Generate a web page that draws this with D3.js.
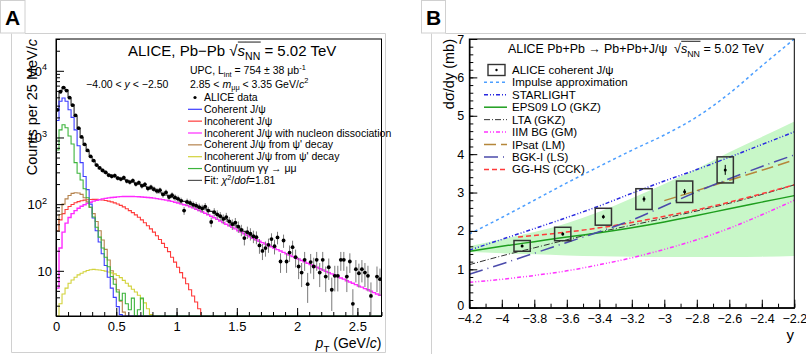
<!DOCTYPE html>
<html>
<head>
<meta charset="utf-8">
<script src="https://cdn.jsdelivr.net/npm/d3@7"></script>
<style>
  body { margin: 0; background: #fff; }
  svg { display: block; font-family: "Liberation Sans", Arial, sans-serif; }
</style>
</head>
<body>
<svg width="806" height="354"></svg>
<script>
// ---------------- panel A : pT spectrum (counts per 25 MeV/c) ----------------
const binW = 0.025;      // GeV/c
const nBins = 108;       // 0 .. 2.7 GeV/c
const yMinA = 2.1;

const ptTicks = [0, 0.5, 1, 1.5, 2, 2.5];
const countTicks = [10, 100, 1000, 10000];

// component templates, one value per 25 MeV bin starting at pT = 0
const coherent = [1800, 3500, 3900, 3500, 2600, 2000, 1300, 750, 420, 260, 165, 100, 62, 40, 27, 18, 12, 8, 5.5, 4, 2.9, 2.2];
const continuum = [650, 1300, 1550, 1400, 1050, 800, 420, 290, 230, 170, 125, 90, 64, 45, 32, 22, 16, 11.5, 8.2, 6.3, 4.8, 3.6,
  4.6, 3.2, 2.6, 3.9, 1.9, 2.6, 3.9, 1.4];
const cohPsi2S = [40, 70, 100, 120, 135, 145, 148, 147, 140, 125, 108, 90, 72, 55, 40, 29, 21, 14.5, 10, 7.5, 5.2, 3.5, 2.4, 1.6];
const incohPsi2S = [1.5, 3.2, 4.5, 5.5, 6.5, 7.3, 8.0, 8.7, 9.2, 9.7, 10.1, 10.4, 10.5, 10.4, 10.3, 10.1, 9.9, 9.6, 9.3, 9.0,
  8.5, 7.9, 7.2, 6.5, 5.9, 5.3, 4.8, 4.3, 3.8, 3.3, 2.7, 2.2, 1.5];
const incoherent = [40, 58, 72, 83, 92, 99, 105, 109, 112.5, 115, 116.5, 117.5, 118, 118, 117, 115.5, 113.5, 111, 108, 104.5,
  100.5, 96, 91, 85.5, 80, 74.5, 69, 63.5, 58, 52.5, 47.5, 42.5, 38, 33.5, 29.5, 25.8, 22.4, 19.4, 16, 13.5,
  11.3, 9.4, 7.8, 6.4, 5.2, 4.2, 3.4, 2.7];
const dissociation = [5.5, 22, 38, 52, 63, 72, 80, 87, 93, 98, 103, 107, 111, 114, 117, 120, 122, 124, 126, 127,
  128.5, 129.5, 130, 130.5, 130.5, 130, 129.5, 129, 128, 127, 126, 124.5, 123, 121, 119, 117, 115, 112.5, 110, 107,
  104, 101, 98, 95, 91, 88, 84, 80.5, 77, 73, 69.5, 66, 62.5, 59, 56, 53, 50, 47.5, 45, 42.5,
  40, 38, 36, 34, 32.3, 30.7, 29.2, 27.8, 26.5, 25.2, 24, 22.9, 21.8, 20.8, 19.8, 18.9, 18, 17.2, 16.4, 15.7,
  15, 14.3, 13.6, 13, 12.4, 11.8, 11.3, 10.8, 10.3, 9.8, 9.4, 9, 8.6, 8.2, 7.8, 7.5, 7.1, 6.8, 6.5, 6.2,
  5.9, 5.7, 5.4, 5.2, 4.95, 4.7, 4.5, 4.3];
const fitTotal = [2537, 4953, 5665, 5161, 3947, 3123, 2061, 1390, 1000, 773, 620, 515, 438, 382, 341, 314, 293, 279, 267, 258,
  250, 243, 235, 227, 219, 214, 205, 199, 194, 184, 176, 169, 162.5, 154.5, 148.5, 143, 137, 132, 126, 120.5,
  118, 114, 110, 106, 102, 98, 94.5, 91, 88, 85, 81.5, 78, 74, 70, 66, 62.5, 59, 55.5, 52, 48.5,
  45, 42, 39, 36, 33.5, 31, 29.2];

// ALICE data, one point per bin (null = no point)
const dataCounts = [2600, 4850, 5600, 5050, 3950, 3050, 2150, 1380, 1020, 790, 640, 520, 450, 385, 350, 320, 300, 272, 262, 268,
  245, 238, 250, 222, 214, 226, 200, 210, 188, 198, 172, 180, 168, 158, 162, 140, 150, 128, 136, 126,
  120, 112, 80, 108, 104, 98, 95, 90, 86, 92, 80, 54, 76, 70, 66, 60, 64, 55, 50, 53,
  46, 41, 31, 38, 36, 33, 32, 24, 19.9, 21.9, 24.5, 29.9, 23.4, 31.7, 13.8, 28.5, 13.8, 18.8, 22.6, 16,
  11.6, 9.4, 14.6, 6.3, 13.5, 11.6, 14.6, 9.4, 14.6, 8.2, 11.3, 5.2, 8.4, 8.4, 14.6, 14.6, 8.2, 13.8, 3.2, 10.6,
  9.2, 10.6, 9.4, 8.4, 4.2, null, 8.2, 7.5];
const dataErrors = [65, 90, 95, 90, 80, 70, 58, 47, 40, 35, 31, 28, 26, 24, 23, 22, 21, 20, 20, 20,
  19, 19, 19, 18, 18, 18, 17, 17, 17, 17, 16, 16, 16, 16, 15, 15, 15, 14, 14, 14,
  14, 13, 11, 13, 13, 12, 12, 12, 12, 12, 11, 9, 11, 11, 10, 10, 10, 9, 9, 9,
  9, 8, 7, 8, 7.5, 7, 7, 6, 5.4, 5.6, 5.9, 6.6, 5.8, 6.8, 4.5, 6.4, 4.5, 5.2, 5.7, 4.8,
  4.1, 3.7, 4.6, 3, 4.4, 4.1, 4.6, 3.7, 4.6, 3.4, 4, 2.7, 3.5, 3.5, 4.6, 4.6, 3.4, 4.5, 2.1, 3.9,
  3.6, 3.9, 3.7, 3.5, 2.5, null, 3.4, 3.3];

// ---------------- panel B : dsigma/dy vs y ----------------
const rapTicks = [-4.2, -4, -3.8, -3.6, -3.4, -3.2, -3, -2.8, -2.6, -2.4, -2.2];
const sigmaTicks = [0, 1, 2, 3, 4, 5, 6, 7];

const aliceY = [-3.875, -3.625, -3.375, -3.125, -2.875, -2.625];
const aliceSigma = [1.61, 1.92, 2.37, 2.83, 3.02, 3.59];
const aliceStat = [0.03, 0.04, 0.05, 0.07, 0.07, 0.13];
const aliceSyst = [0.14, 0.175, 0.22, 0.27, 0.28, 0.34];

const modelRap = [-4.2, -4.0, -3.8, -3.6, -3.4, -3.2, -3.0, -2.8, -2.6, -2.4, -2.2];
const impulse   = [1.92, 2.35, 2.8, 3.25, 3.68, 4.1, 4.5, 4.97, 5.58, 6.3, 7.0];
const starlight = [1.5, 1.78, 2.06, 2.35, 2.65, 2.98, 3.3, 3.6, 3.92, 4.25, 4.58];
const eps09     = [1.47, 1.6, 1.72, 1.84, 1.95, 2.08, 2.23, 2.4, 2.58, 2.75, 2.92];
const eps09Low  = [1.45, 1.42, 1.39, 1.36, 1.34, 1.33, 1.32, 1.32, 1.32, 1.33, 1.35];
const eps09High = [1.6, 1.78, 1.97, 2.2, 2.5, 2.85, 3.22, 3.62, 4.05, 4.45, 4.85];
const lta       = [1.12, 1.35, 1.56, 1.77, 1.97, 2.15, 2.33, 2.52, 2.72, 2.95, 3.2];
const iim       = [0.66, 0.74, 0.84, 0.96, 1.12, 1.3, 1.52, 1.77, 2.07, 2.42, 2.8];
const bgk       = [0.87, 1.14, 1.42, 1.7, 1.98, 2.28, 2.65, 3.02, 3.36, 3.68, 3.98];
const ipsatRap  = [-3.0, -2.8, -2.6, -2.4, -2.2];
const ipsat     = [2.79, 3.05, 3.32, 3.58, 3.85];
const gghsRap   = [-3.9, -3.8, -3.6, -3.4, -3.2, -3.0, -2.8, -2.6, -2.4, -2.2];
const gghs      = [1.84, 1.88, 1.97, 2.08, 2.22, 2.38, 2.55, 2.75, 2.97, 3.2];

// ---------------------------------------------------------------------------
const svg = d3.select('svg');

// small helper for ROOT-like text with sub/superscripts and italics
function rich(g, x, y, parts, size, anchor) {
  const t = g.append('text')
    .attr('x', x).attr('y', y)
    .attr('font-size', size)
    .attr('text-anchor', anchor || 'start');
  let shift = 0;
  const ov = [];
  let idx = 0;
  parts.forEach(p => {
    const s = typeof p === 'string' ? p : p[0];
    const f = typeof p === 'string' ? [] : p[1].split(' ');
    const ts = t.append('tspan').text(s);
    let target = 0;
    if (f.includes('sub')) target = size * 0.28;
    if (f.includes('sup')) target = -size * 0.42;
    if (target !== shift) ts.attr('dy', target - shift);
    shift = target;
    if (f.includes('sub') || f.includes('sup')) ts.attr('font-size', size * 0.7);
    if (f.includes('i')) ts.attr('font-style', 'italic');
    if (f.includes('ov')) ov.push([idx, idx + s.length - 1]);
    idx += s.length;
  });
  // overline for square roots
  ov.forEach(([a, b]) => {
    const n = t.node();
    const x0 = n.getStartPositionOfChar(a).x + 0.3;
    const x1 = n.getEndPositionOfChar(b).x + 0.5;
    g.append('line')
      .attr('x1', x0).attr('x2', x1)
      .attr('y1', y - size * 0.93).attr('y2', y - size * 0.93)
      .attr('stroke', '#000').attr('stroke-width', 0.9);
  });
  return t;
}

// ---- figure frames and panel letters ----
const frames = svg.append('g').attr('fill', 'none').attr('stroke', '#d0d0d0');
frames.append('rect').attr('x', 0.5).attr('y', 0.5).attr('width', 24.5).attr('height', 32.5).attr('fill', '#fff');
frames.append('path').attr('d', 'M25,33.5H385.5V352.5H11.5V33.5');
frames.append('rect').attr('x', 421.5).attr('y', 0.5).attr('width', 24).attr('height', 32.5).attr('fill', '#fff');
frames.append('path').attr('d', 'M445.5,33.5H806M431.5,33.5V354');
svg.append('text').attr('x', 12.5).attr('y', 25).attr('text-anchor', 'middle')
  .attr('font-size', 21).attr('font-weight', 'bold').text('A');
svg.append('text').attr('x', 433.5).attr('y', 25).attr('text-anchor', 'middle')
  .attr('font-size', 21).attr('font-weight', 'bold').text('B');

// =========================== panel A ===========================
const xA = d3.scaleLinear().domain([0, 2.7]).range([56, 381.5]);
const yA = d3.scaleLog().domain([yMinA, 30000]).range([316, 39]);
const gA = svg.append('g');

svg.append('clipPath').attr('id', 'clipA').append('rect')
  .attr('x', 56).attr('y', 39).attr('width', 325.5).attr('height', 277);

function histPath(values, full) {
  const n = full ? nBins : values.length;
  const pts = [[xA(0), yA(yMinA)]];
  for (let i = 0; i < n; i++) {
    const v = Math.max(values[i] || 0, yMinA);
    pts.push([xA(i * binW), yA(v)], [xA((i + 1) * binW), yA(v)]);
  }
  return d3.line()(pts);
}

const compA = [
  { v: fitTotal, c: '#2a2a2a', full: false },
  { v: incoherent, c: '#ff3b3b', full: true },
  { v: dissociation, c: '#ff2bff', full: true, w: 1.4 },
  { v: cohPsi2S, c: '#b5824c', full: true },
  { v: incohPsi2S, c: '#d2d23a', full: true },
  { v: coherent, c: '#3c3cff', full: true },
  { v: continuum, c: '#3cb43c', full: true }
];
const histG = gA.append('g').attr('clip-path', 'url(#clipA)');
compA.forEach(h => {
  histG.append('path')
    .attr('d', histPath(h.v, h.full))
    .attr('fill', 'none')
    .attr('stroke', h.c)
    .attr('stroke-width', h.w || 1.1);
});

// data points
const pts = dataCounts.map((v, i) => ({ x: (i + 0.5) * binW, v, e: dataErrors[i] })).filter(d => d.v != null);
const ptG = gA.append('g').attr('clip-path', 'url(#clipA)');
ptG.selectAll('line.err').data(pts).enter().append('line')
  .attr('x1', d => xA(d.x)).attr('x2', d => xA(d.x))
  .attr('y1', d => yA(d.v + d.e)).attr('y2', d => yA(Math.max(d.v - d.e, yMinA)))
  .attr('stroke', '#7a7a7a').attr('stroke-width', 1);
ptG.selectAll('circle').data(pts).enter().append('circle')
  .attr('cx', d => xA(d.x)).attr('cy', d => yA(d.v)).attr('r', 1.9).attr('fill', '#000');

// axes A
const xMinorA = d3.range(0, 2.7001, 0.1);
gA.append('g').attr('transform', 'translate(0,316)')
  .call(d3.axisBottom(xA).tickValues(xMinorA).tickSize(-4).tickSizeOuter(0).tickFormat(''));
const xAxA = gA.append('g').attr('transform', 'translate(0,316)')
  .call(d3.axisBottom(xA).tickValues(ptTicks).tickSize(-8).tickSizeOuter(0).tickPadding(6).tickFormat(d3.format('~g')));
xAxA.attr('font-size', 13).attr('font-family', null);

const yMinorA = [];
[1, 10, 100, 1000, 10000].forEach(dec => [2, 3, 4, 5, 6, 7, 8, 9].forEach(k => {
  const v = dec * k;
  if (v >= yMinA && v <= 30000) yMinorA.push(v);
}));
gA.append('g').attr('transform', 'translate(56,0)')
  .call(d3.axisLeft(yA).tickValues(yMinorA).tickSize(-4).tickSizeOuter(0).tickFormat(''));
gA.append('g').attr('transform', 'translate(56,0)')
  .call(d3.axisLeft(yA).tickValues(countTicks).tickSize(-8).tickSizeOuter(0).tickFormat(''));
countTicks.forEach(t => {
  const e = Math.round(Math.log10(t));
  const parts = e === 1 ? ['10'] : ['10', [String(e), 'sup']];
  rich(gA, e === 1 ? 52 : 47, yA(t) + 5, parts, 13, 'end');
});
gA.selectAll('.domain').attr('stroke', '#000');
gA.append('rect').attr('x', 56).attr('y', 39).attr('width', 325.5).attr('height', 277)
  .attr('fill', 'none').attr('stroke', '#000');

// labels A
const yt = gA.append('g').attr('transform', 'translate(37,39) rotate(-90)');
rich(yt, 0, 0, ['Counts per 25 MeV/', ['c', 'i']], 14.5, 'end');
rich(gA, 381.5, 348, [['p', 'i'], ['T', 'sub'], ' (GeV/', ['c', 'i'], ')'], 14, 'end');

rich(gA, 128, 56, ['ALICE, Pb\u2212Pb ', '\u221A', ['s', 'i ov'], ['NN', 'sub ov'], ' = 5.02 TeV'], 15);
rich(gA, 190, 74, ['UPC, L', ['int', 'sub'], ' = 754 \u00B1 38 \u03BCb', ['-1', 'sup']], 10.5);
rich(gA, 190, 87.5, ['2.85 < ', ['m', 'i'], ['\u03BC\u03BC', 'sub'], ' < 3.35 GeV/', ['c', 'i'], ['2', 'sup']], 10.5);
rich(gA, 86, 87.5, ['\u22124.00 < ', ['y', 'i'], ' < \u22122.50'], 10.5);

const legA = [
  { c: '#3c3cff', t: ['Coherent J/\u03C8'] },
  { c: '#ff3b3b', t: ['Incoherent J/\u03C8'] },
  { c: '#ff2bff', t: ['Incoherent J/\u03C8 with nucleon dissociation'] },
  { c: '#b5824c', t: ["Coherent J/\u03C8 from \u03C8' decay"] },
  { c: '#d2d23a', t: ["Incoherent J/\u03C8 from \u03C8' decay"] },
  { c: '#3cb43c', t: ['Continuum \u03B3\u03B3 \u2192 \u03BC\u03BC'] },
  { c: '#555', t: ['Fit: ', ['\u03C7', 'i'], ['2', 'sup'], '/', ['dof', 'i'], '=1.81'] }
];
gA.append('circle').attr('cx', 195).attr('cy', 97.5).attr('r', 1.6).attr('fill', '#000');
rich(gA, 204, 101, ['ALICE data'], 10.5);
legA.forEach((d, i) => {
  const cy = 109.3 + i * 11.85;
  gA.append('line').attr('x1', 188).attr('x2', 202).attr('y1', cy).attr('y2', cy)
    .attr('stroke', d.c).attr('stroke-width', 1.2);
  rich(gA, 204, cy + 3.6, d.t, 10.5);
});

// =========================== panel B ===========================
const xB = d3.scaleLinear().domain([-4.2, -2.2]).range([469.3, 794.3]);
const yB = d3.scaleLinear().domain([0, 7]).range([307.7, 39]);
const gB = svg.append('g');
svg.append('clipPath').attr('id', 'clipB').append('rect')
  .attr('x', 469.3).attr('y', 39).attr('width', 325).attr('height', 268.7);
const plotB = gB.append('g').attr('clip-path', 'url(#clipB)');

const band = modelRap.map((r, i) => ({ r, lo: eps09Low[i], hi: eps09High[i] }));
plotB.append('path').datum(band)
  .attr('d', d3.area().x(d => xB(d.r)).y0(d => yB(d.lo)).y1(d => yB(d.hi)).curve(d3.curveMonotoneX))
  .attr('fill', '#c8f7c8');

const models = [
  { name: 'Impulse approximation', r: modelRap, v: impulse, c: '#4d9fff', dash: '3,3', w: 1.5 },
  { name: 'STARLIGHT', r: modelRap, v: starlight, c: '#2929e0', dash: '4,2,1,2,1,2', w: 1.5 },
  { name: 'EPS09 LO (GKZ)', r: modelRap, v: eps09, c: '#1e9e1e', dash: null, w: 1.5 },
  { name: 'LTA (GKZ)', r: modelRap, v: lta, c: '#333', dash: '6,2,1,2', w: 1 },
  { name: 'IIM BG (GM)', r: modelRap, v: iim, c: '#ff33ff', dash: '4,2,1,2,1,2', w: 1.5 },
  { name: 'IPsat (LM)', r: ipsatRap, v: ipsat, c: '#b5863a', dash: '12,5', w: 1.5 },
  { name: 'BGK-I (LS)', r: modelRap, v: bgk, c: '#4b4bab', dash: '14,5,1,5', w: 1.5 },
  { name: 'GG-HS (CCK)', r: gghsRap, v: gghs, c: '#ff3a3a', dash: '5,3', w: 1.5 }
];
const drawOrder = [0, 1, 4, 3, 2, 7, 5, 6];
drawOrder.forEach(k => {
  const m = models[k];
  plotB.append('path').datum(m.r.map((r, i) => [r, m.v[i]]))
    .attr('d', d3.line().x(d => xB(d[0])).y(d => yB(d[1])).curve(d3.curveMonotoneX))
    .attr('fill', 'none').attr('stroke', m.c).attr('stroke-width', m.w)
    .attr('stroke-dasharray', m.dash);
});

// ALICE points with systematic boxes
const alice = aliceY.map((r, i) => ({ r, v: aliceSigma[i], st: aliceStat[i], sy: aliceSyst[i] }));
plotB.selectAll('rect.sys').data(alice).enter().append('rect')
  .attr('x', d => xB(d.r - 0.05)).attr('width', d => xB(d.r + 0.05) - xB(d.r - 0.05))
  .attr('y', d => yB(d.v + d.sy)).attr('height', d => yB(d.v - d.sy) - yB(d.v + d.sy))
  .attr('fill', 'none').attr('stroke', '#333').attr('stroke-width', 1.5);
plotB.selectAll('line.stat').data(alice).enter().append('line')
  .attr('x1', d => xB(d.r)).attr('x2', d => xB(d.r))
  .attr('y1', d => yB(d.v + d.st)).attr('y2', d => yB(d.v - d.st))
  .attr('stroke', '#000').attr('stroke-width', 1);
plotB.selectAll('circle').data(alice).enter().append('circle')
  .attr('cx', d => xB(d.r)).attr('cy', d => yB(d.v)).attr('r', 1.5).attr('fill', '#000');

// axes B
const xMinorB = d3.range(-4.2, -2.1999, 0.1);
gB.append('g').attr('transform', 'translate(0,307.7)')
  .call(d3.axisBottom(xB).tickValues(xMinorB).tickSize(-4).tickSizeOuter(0).tickFormat(''));
gB.append('g').attr('transform', 'translate(0,307.7)')
  .call(d3.axisBottom(xB).tickValues(rapTicks).tickSize(-8).tickSizeOuter(0).tickPadding(6).tickFormat(d3.format('~g')))
  .attr('font-size', 12.5).attr('font-family', null);
const yMinorB = d3.range(0, 7.0001, 0.2);
gB.append('g').attr('transform', 'translate(469.3,0)')
  .call(d3.axisLeft(yB).tickValues(yMinorB).tickSize(-4).tickSizeOuter(0).tickFormat(''));
const yAxB = gB.append('g').attr('transform', 'translate(469.3,0)')
  .call(d3.axisLeft(yB).tickValues(sigmaTicks).tickSize(-8).tickSizeOuter(0).tickPadding(5).tickFormat(d3.format('d')))
  .attr('font-size', 12.5).attr('font-family', null);
yAxB.selectAll('.tick text').filter(d => d === 0).attr('dy', '0.15em');
gB.append('rect').attr('x', 469.3).attr('y', 39).attr('width', 325).attr('height', 268.7)
  .attr('fill', 'none').attr('stroke', '#000');

const ytB = gB.append('g').attr('transform', 'translate(454,39) rotate(-90)');
rich(ytB, 0, 0, ['d\u03C3/dy (mb)'], 14.5, 'end');
rich(gB, 794, 340, ['y'], 15, 'end');

rich(gB, 508, 53, ['ALICE Pb+Pb \u2192 Pb+Pb+J/\u03C8'], 12.4);
rich(gB, 674, 53, ['\u221A', ['s', 'i ov'], ['NN', 'sub ov'], ' = 5.02 TeV'], 12.6);

// legend B
gB.append('rect').attr('x', 488).attr('y', 64.5).attr('width', 17).attr('height', 11)
  .attr('fill', 'none').attr('stroke', '#333').attr('stroke-width', 1.4);
gB.append('circle').attr('cx', 496.5).attr('cy', 70).attr('r', 1.2).attr('fill', '#000');
rich(gB, 512, 74, ['ALICE coherent J/\u03C8'], 11.5);
models.forEach((m, i) => {
  const cy = 82.3 + i * 12.45;
  gB.append('line').attr('x1', 484).attr('x2', 507).attr('y1', cy).attr('y2', cy)
    .attr('stroke', m.c).attr('stroke-width', m.w).attr('stroke-dasharray', m.dash);
  rich(gB, 512, cy + 4, [m.name], 11.5);
});
</script>
</body>
</html>
